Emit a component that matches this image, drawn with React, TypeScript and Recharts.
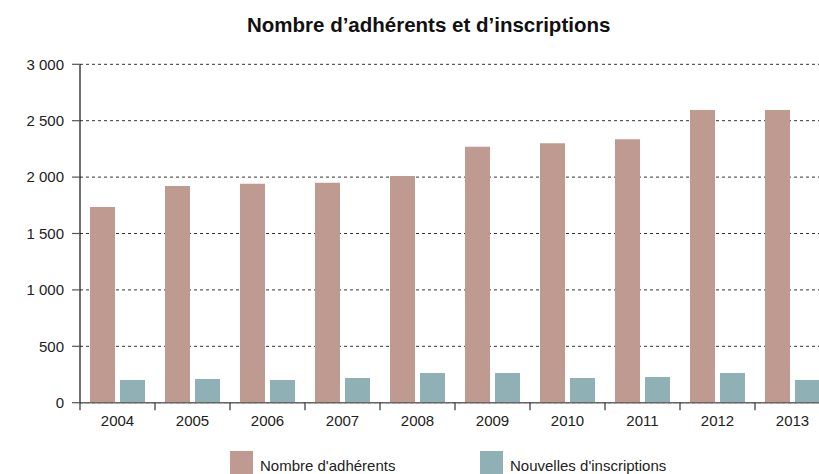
import React from 'react';
import { BarChart, Bar, XAxis, YAxis, CartesianGrid, Legend } from 'recharts';

const years = ['2004', '2005', '2006', '2007', '2008', '2009', '2010', '2011', '2012', '2013'];
const adherents = [1735, 1920, 1940, 1950, 2010, 2268, 2300, 2335, 2595, 2595];
const inscriptions = [201, 210, 201, 219, 263, 263, 219, 228, 263, 201];
const yTicks = [0, 500, 1000, 1500, 2000, 2500, 3000];

const TITLE = 'Nombre d’adhérents et d’inscriptions';
const SERIES_ADH = "Nombre d'adhérents";
const SERIES_INS = "Nouvelles d'inscriptions";
const COLOR_ADH = '#bf9a90';
const COLOR_INS = '#8fb0b5';
const FONT = '"Liberation Sans", Arial, Helvetica, sans-serif';

const data = years.map((y, i) => ({ year: y, adh: adherents[i], ins: inscriptions[i] }));

const fmt = (v: number) => String(v).replace(/\B(?=(\d{3})+(?!\d))/g, ' ');

const XTick = (props: any) => {
  const { x, y, payload, index } = props;
  const off = payload.offset || 37.5;
  return (
    <g>
      <line x1={x - off} x2={x - off} y1={y} y2={y + 7.5} stroke="#333" strokeWidth={1.2} />
      {index === years.length - 1 && (
        <line x1={x + off} x2={x + off} y1={y} y2={y + 7.5} stroke="#333" strokeWidth={1.2} />
      )}
      <text x={x} y={y + 23.5} textAnchor="middle" fontSize={15} fill="#222" fontFamily={FONT}>
        {payload.value}
      </text>
    </g>
  );
};

const LegendContent = () => (
  <div style={{ position: 'relative', width: 819, height: 30, fontFamily: FONT, fontSize: 15, color: '#222' }}>
    <div style={{ position: 'absolute', left: 230, top: 0, width: 23, height: 23, background: COLOR_ADH }} />
    <div style={{ position: 'absolute', left: 260, top: 6, whiteSpace: 'nowrap', lineHeight: 'normal' }}>{SERIES_ADH}</div>
    <div style={{ position: 'absolute', left: 480, top: 0, width: 23, height: 23, background: COLOR_INS }} />
    <div style={{ position: 'absolute', left: 510, top: 6, whiteSpace: 'nowrap', lineHeight: 'normal' }}>{SERIES_INS}</div>
  </div>
);

export default function App() {
  return (
    <div style={{ position: 'absolute', left: 0, top: 0, width: 819, height: 474, overflow: 'hidden', background: '#fff' }}>
      <svg style={{ position: 'absolute', left: 0, top: 0 }} width={819} height={45}>
        <text x={247} y={31.7} fontFamily={FONT} fontWeight="bold" fontSize={20.5} fill="#111">
          {TITLE}
        </text>
      </svg>
      <BarChart
        width={840}
        height={474}
        data={data}
        margin={{ top: 64.3, right: 10, bottom: 41.3, left: 0 }}
        barCategoryGap={10}
        barGap={5}
      >
        <CartesianGrid vertical={false} stroke="#333" strokeDasharray="3 3" strokeWidth={1} />
        <XAxis
          dataKey="year"
          height={30}
          tickLine={false}
          tickSize={0}
          tickMargin={0}
          axisLine={{ stroke: '#666', strokeWidth: 1.5 }}
          tick={<XTick />}
          interval={0}
        />
        <YAxis
          width={80}
          domain={[0, 3000]}
          ticks={yTicks}
          tickFormatter={fmt}
          axisLine={{ stroke: '#111', strokeWidth: 1.2 }}
          tickLine={{ stroke: '#555', strokeWidth: 1.2 }}
          tickSize={8}
          tickMargin={8}
          tick={{ fontSize: 15, fill: '#222', fontFamily: FONT }}
        />
        <Legend
          layout="horizontal"
          verticalAlign="middle"
          content={<LegendContent />}
          wrapperStyle={{ top: 451, left: 0, width: 819 }}
        />
        <Bar dataKey="adh" name={SERIES_ADH} fill={COLOR_ADH} isAnimationActive={false} />
        <Bar dataKey="ins" name={SERIES_INS} fill={COLOR_INS} isAnimationActive={false} />
      </BarChart>
    </div>
  );
}
